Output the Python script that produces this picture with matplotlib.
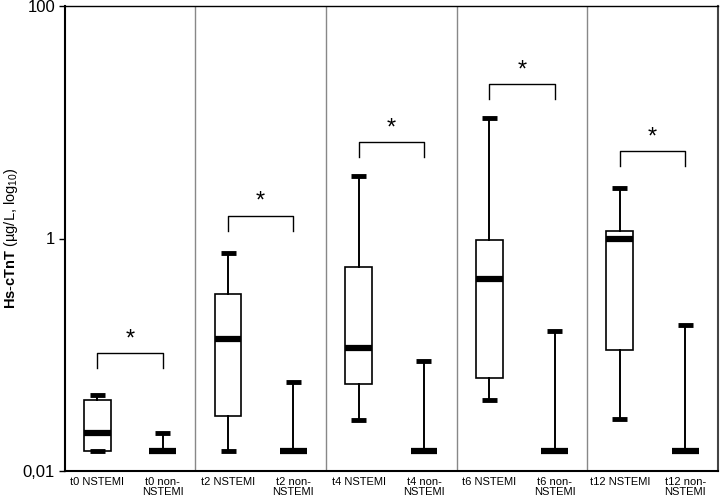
import numpy as np
import matplotlib
matplotlib.use("Agg")
import matplotlib.pyplot as plt

plt.rcParams["font.family"] = ["Liberation Sans", "DejaVu Sans"]
plt.rcParams["mathtext.fontset"] = "custom"
plt.rcParams["mathtext.rm"] = "Liberation Sans"
plt.rcParams["mathtext.bf"] = "Liberation Sans:bold"

# box statistics (µg/L)
labels = ["t0 NSTEMI", "t0 non-\nNSTEMI", "t2 NSTEMI", "t2 non-\nNSTEMI",
          "t4 NSTEMI", "t4 non-\nNSTEMI", "t6 NSTEMI", "t6 non-\nNSTEMI",
          "t12 NSTEMI", "t12 non-\nNSTEMI"]
whislo = [0.0148, 0.0149, 0.0149, 0.0149, 0.0273, 0.0149, 0.0412, 0.0149, 0.0282, 0.0149]
q1     = [0.0148, 0.0149, 0.0297, 0.0149, 0.0565, 0.0149, 0.063,  0.0149, 0.11,   0.0149]
med    = [0.0211, 0.0149, 0.136,  0.0149, 0.115,  0.0149, 0.447,  0.0149, 0.986,  0.0149]
q3     = [0.0405, 0.0149, 0.334,  0.0149, 0.565,  0.0149, 0.98,   0.0149, 1.15,   0.0149]
whishi = [0.0455, 0.0214, 0.749,  0.058,  3.45,   0.0883, 10.8,   0.16,   2.73,   0.18]

# significance brackets, one per time point
bracket_y = [0.103, 1.57, 6.75, 21.3, 5.62]

stats = []
for i in range(len(labels)):
    stats.append(dict(whislo=whislo[i], q1=q1[i], med=med[i], q3=q3[i],
                      whishi=whishi[i], label=labels[i]))

fig = plt.figure(figsize=(7.2, 5), dpi=100)
ax = fig.add_axes([0.090, 0.058, 0.907, 0.930])

pos = np.arange(len(labels)) + 0.5
ax.bxp(stats, positions=pos, widths=0.41, capwidths=0.23, showfliers=False,
       patch_artist=True,
       boxprops=dict(facecolor="white", edgecolor="black", linewidth=1.2),
       medianprops=dict(color="black", linewidth=4.5, solid_capstyle="butt"),
       whiskerprops=dict(color="black", linewidth=1.4),
       capprops=dict(color="black", linewidth=3.5, solid_capstyle="butt"))

ax.set_yscale("log")
ax.set_ylim(0.01, 100)
ax.set_xlim(0, 10)
ax.set_yticks([0.01, 1, 100])
ax.set_yticklabels(["0,01", "1", "100"], fontsize=12)
ax.yaxis.set_minor_locator(matplotlib.ticker.NullLocator())
ax.tick_params(axis="y", length=4, width=1, pad=3)
ax.tick_params(axis="x", length=0, labelsize=8, pad=4)
for lab in ax.get_xticklabels():
    lab.set_linespacing(1.0)
ax.set_ylabel(r"$\mathbf{Hs}$-$\mathbf{cTnT}$ (µg/L, log$_{10}$)", fontsize=10.5,
              labelpad=2)

for s in ["left", "bottom"]:
    ax.spines[s].set_linewidth(1.5)
ax.spines["top"].set_linewidth(1.0)
ax.spines["right"].set_linewidth(1.5)
ax.spines["right"].set_color("#444444")

for xs in [2, 4, 6, 8]:
    ax.axvline(xs, color="#888888", linewidth=1.0)

for k, yb in enumerate(bracket_y):
    x1, x2 = pos[2 * k], pos[2 * k + 1]
    ylo = yb / 10 ** 0.13
    ax.plot([x1, x1, x2, x2], [ylo, yb, yb, ylo], color="black", linewidth=1.0)
    ax.text((x1 + x2) / 2, yb * 1.06, "*", ha="center", va="bottom", fontsize=17)

fig.savefig("out.png", dpi=100)
